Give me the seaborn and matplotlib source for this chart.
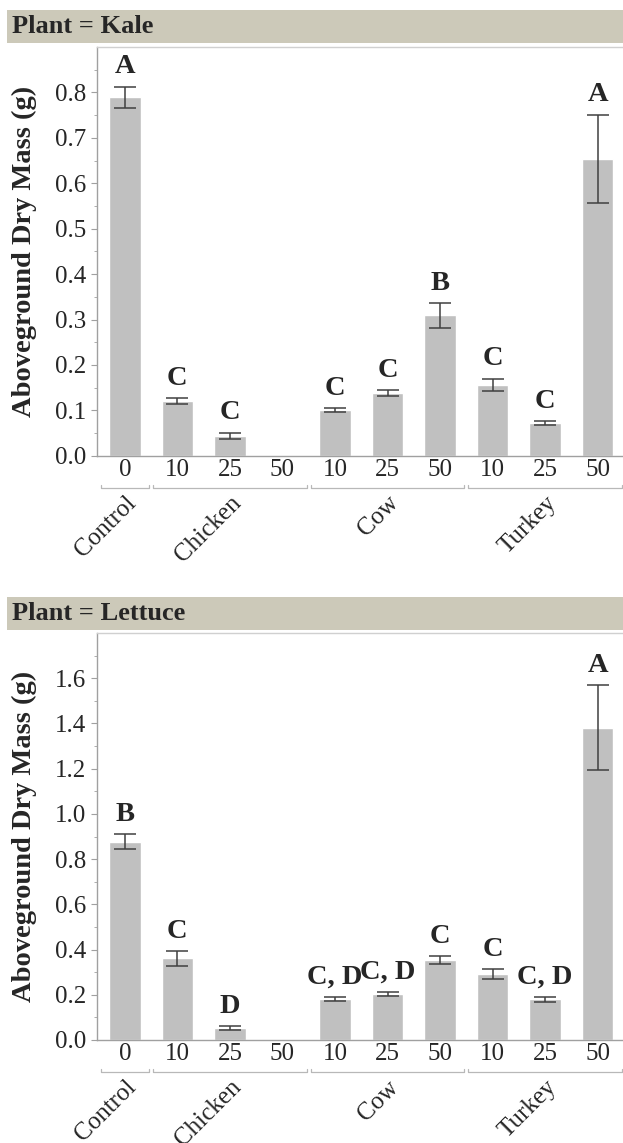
import numpy as np
import pandas as pd
import matplotlib
matplotlib.use("Agg")
import matplotlib.pyplot as plt
from matplotlib.patches import Rectangle
from matplotlib.transforms import offset_copy
import seaborn as sns

# bar order, left to right
treatments = ["Control", "Chicken", "Chicken", "Chicken", "Cow", "Cow", "Cow",
              "Turkey", "Turkey", "Turkey"]
rates = ["0", "10", "25", "50", "10", "25", "50", "10", "25", "50"]

kale_mean = [0.789, 0.120, 0.044, np.nan, 0.100, 0.138, 0.309, 0.156, 0.072, 0.654]
kale_se = [0.024, 0.0065, 0.007, np.nan, 0.0045, 0.006, 0.027, 0.014, 0.004, 0.097]
kale_letters = ["A", "C", "C", "", "C", "C", "B", "C", "C", "A"]

lettuce_mean = [0.877, 0.361, 0.054, np.nan, 0.181, 0.202, 0.354, 0.290, 0.181, 1.382]
lettuce_se = [0.033, 0.032, 0.008, np.nan, 0.009, 0.009, 0.016, 0.022, 0.011, 0.187]
lettuce_letters = ["B", "C", "D", "", "C, D", "C, D", "C", "C", "C, D", "A"]

W, H = 623, 1143
BAR = "#c0c0c0"
ERR = "#404040"
BAND = "#ccc9b9"
AXC = "#a0a0a0"

sns.set_style("white")
plt.rcParams["font.family"] = ["Liberation Serif", "DejaVu Serif"]

fig = plt.figure(figsize=(W / 100, H / 100), dpi=100)


def px_box(left, top, right, bottom):
    return [left / W, 1 - bottom / H, (right - left) / W, (bottom - top) / H]


def panel(ax, title, band, mean, se, letters, ymax, major, minor):
    # header strip
    bl, bt, bw, bh = px_box(7, band[0], W, band[1])
    fig.patches.append(Rectangle((bl, bt), bw, bh, transform=fig.transFigure,
                                 facecolor=BAND, edgecolor="none"))
    fig.text(12 / W, 1 - (band[0] + band[1]) / 2 / H, title, fontsize=19,
             fontweight="bold", va="center", ha="left")

    keys = [f"{t} {r}" for t, r in zip(treatments, rates)]
    df = pd.DataFrame({"trt": keys, "mass": mean})
    sns.barplot(data=df, x="trt", y="mass", order=keys, color=BAR, saturation=1,
                width=0.6, errorbar=None, ax=ax)
    ax.errorbar(range(len(mean)), mean, yerr=se, fmt="none", ecolor=ERR,
                elinewidth=1.1, capsize=8, capthick=1.1)

    for i, (m, s, lab) in enumerate(zip(mean, se, letters)):
        if lab:
            ax.annotate(lab, (i, m + s), xytext=(0, 9.5), textcoords="offset points",
                        ha="center", va="baseline", fontsize=20.5, fontweight="bold")

    ax.set_xlim(-0.53, 9.5)
    ax.set_ylim(0, ymax)
    ax.set_yticks(np.arange(0, ymax - 0.01, major))
    ax.set_yticks(np.arange(minor, ymax, major), minor=True)
    ax.set_yticklabels([f"{v:.1f}" for v in np.arange(0, ymax - 0.01, major)])
    ax.set_xticks(range(len(rates)))
    ax.set_xticklabels(rates)
    ax.tick_params(axis="x", length=0, pad=2, labelsize=18)
    ax.tick_params(axis="y", which="major", left=True, length=4, width=0.8,
                   color=AXC, pad=3.5, labelsize=18)
    ax.tick_params(axis="y", which="minor", left=True, length=2.5, width=0.6, color=AXC)
    ax.set_xlabel("")
    ax.set_ylabel("Aboveground Dry Mass (g)", fontsize=20.5, fontweight="bold")
    ax.yaxis.set_label_coords(-0.114, 0.5)

    for side in ["left", "bottom", "top"]:
        ax.spines[side].set_color(AXC)
        ax.spines[side].set_linewidth(1.0)
    ax.spines["top"].set_color("#d0d0d0")
    ax.spines["right"].set_visible(False)

    # treatment brackets and labels under the rate labels
    trans = offset_copy(ax.get_xaxis_transform(), fig=fig, y=-32, units="dots")
    hpx = ax.get_position().height * H
    tick = 3 / hpx
    groups = list(dict.fromkeys(treatments))
    for g in groups:
        idx = [i for i, t in enumerate(treatments) if t == g]
        x0, x1 = idx[0] - 0.46, idx[-1] + 0.46
        ax.plot([x0, x0, x1, x1], [tick, 0, 0, tick], color="#b8b8b8", lw=0.9,
                transform=trans, clip_on=False)
        c = (idx[0] + idx[-1]) / 2
        ax.annotate(g, (c, 0), xycoords=trans, xytext=(0, -3),
                    textcoords="offset points", rotation=45, ha="right", va="top",
                    rotation_mode="anchor", fontsize=18)


ax1 = fig.add_axes(px_box(97, 47, 624, 455.8))
panel(ax1, "Plant = Kale", (10, 43), kale_mean, kale_se, kale_letters, 0.9, 0.1, 0.05)

ax2 = fig.add_axes(px_box(97, 633, 624, 1040))
panel(ax2, "Plant = Lettuce", (597, 630), lettuce_mean, lettuce_se, lettuce_letters,
      1.8, 0.2, 0.1)

fig.savefig("out.png", dpi=100)
